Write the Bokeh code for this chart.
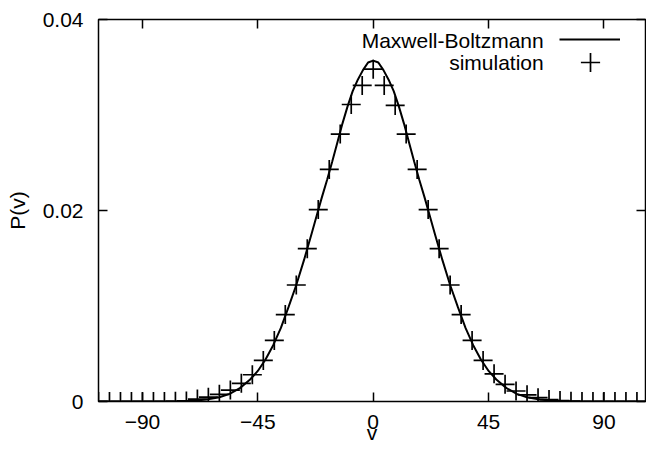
from bokeh.plotting import figure
from bokeh.models import (LinearAxis, FixedTicker, CustomJSTickFormatter, Legend,
                          LegendItem, Label, Range1d)
from bokeh.embed import file_html
from bokeh.resources import INLINE

# ---- data ----
v_sim = [-107.14, -102.86, -98.57, -94.29, -90.00, -85.71, -81.43, -77.14, -72.86,
         -68.57, -64.29, -60.00, -55.71, -51.43, -47.14, -42.86, -38.57, -34.29,
         -30.00, -25.71, -21.43, -17.14, -12.86, -8.57, -4.29, 0.00, 4.29, 8.57,
         12.86, 17.14, 21.43, 25.71, 30.00, 34.29, 38.57, 42.86, 47.14, 51.43,
         55.71, 60.00, 64.29, 68.57, 72.86, 77.14, 81.43, 85.71, 90.00, 94.29,
         98.57, 102.86]
p_sim = [0.0, 0.0, 0.0, 0.0, 0.0, 0.0, 0.0, 0.00002, 0.00006,
         0.00025, 0.00045, 0.00075, 0.0012, 0.0019, 0.0028, 0.0043, 0.0064, 0.0091,
         0.0122, 0.0160, 0.0201, 0.0243, 0.0280, 0.0311, 0.0331, 0.0348, 0.0331, 0.0310,
         0.0280, 0.0243, 0.0201, 0.0160, 0.0122, 0.0091, 0.0064, 0.0043, 0.0029, 0.0018,
         0.0011, 0.0007, 0.0004, 0.0002, 0.0001, 0.00003, 0.0, 0.0, 0.0, 0.0,
         0.0, 0.0]

v_curve = [-107, -90, -80, -75, -70, -65, -60, -56, -52, -48, -45, -42, -39, -36, -33,
           -30, -27, -24, -22, -20, -18, -16, -14, -12, -10, -8, -6, -4, -2, 0,
           2, 4, 6, 8, 10, 12, 14, 16, 18, 20, 22, 24, 27, 30, 33, 36, 39, 42, 45,
           48, 52, 56, 60, 65, 70, 75, 80, 90, 107]
p_curve = [0.0, 0.0, 0.00001, 0.00003, 0.00008, 0.0002, 0.00045, 0.0008, 0.0014, 0.0023,
           0.0032, 0.0044, 0.0059, 0.0077, 0.0099,
           0.0122, 0.0148, 0.0176, 0.0195, 0.0214, 0.0232, 0.0251, 0.0271, 0.0291, 0.0309,
           0.0325, 0.0337, 0.0347, 0.0355, 0.0357,
           0.0355, 0.0347, 0.0337, 0.0325, 0.0309, 0.0291, 0.0271, 0.0251, 0.0232, 0.0214,
           0.0195, 0.0176, 0.0148, 0.0122, 0.0099, 0.0077, 0.0059, 0.0044, 0.0032,
           0.0023, 0.0014, 0.0008, 0.00045, 0.0002, 0.00008, 0.00003, 0.00001, 0.0, 0.0]

x_ticks = [-90, -45, 0, 45, 90]
y_ticks = [0, 0.02, 0.04]
y_tick_labels = ["0", "0.02", "0.04"]
series_names = ["Maxwell-Boltzmann", "simulation"]
x_title = "v"
y_title = "P(v)"

FONT = "Liberation Sans"
FS = "21px"

p = figure(width=646, height=451, output_backend="svg", toolbar_location=None,
           x_range=Range1d(-107.14, 106.2), y_range=Range1d(0, 0.04),
           min_border_left=98, min_border_right=1, min_border_top=19,
           min_border_bottom=50)
p.background_fill_color = "white"
p.border_fill_color = "white"
p.outline_line_color = "black"
p.outline_line_width = 1.5
p.grid.visible = False

def style_axis(ax, labels=True):
    ax.axis_line_color = None
    ax.major_tick_in = 9
    ax.major_tick_out = 0
    ax.major_tick_line_color = "black"
    ax.major_tick_line_width = 1.5
    ax.minor_tick_line_color = None
    ax.major_label_text_font = FONT
    ax.major_label_text_font_size = FS if labels else "1px"
    ax.major_label_text_color = "black"
    ax.axis_label_text_font = FONT
    ax.axis_label_text_font_size = FS
    ax.axis_label_text_font_style = "normal"
    ax.axis_label_text_color = "black"

xa = p.xaxis[0]
xa.ticker = FixedTicker(ticks=x_ticks)
style_axis(xa)
xa.major_label_standoff = 13
xa.axis_label = x_title
xa.axis_label_standoff = -11

ya = p.yaxis[0]
ya.ticker = FixedTicker(ticks=y_ticks)
ya.major_label_overrides = {t: s for t, s in zip(y_ticks, y_tick_labels)}
style_axis(ya)
ya.major_label_standoff = 15
ya.axis_label = y_title
ya.axis_label_standoff = 11

blank = CustomJSTickFormatter(code="return ''")
top = LinearAxis(ticker=FixedTicker(ticks=x_ticks), formatter=blank, major_label_standoff=0)
style_axis(top, labels=False)
p.add_layout(top, "above")
right = LinearAxis(ticker=FixedTicker(ticks=y_ticks), formatter=blank, major_label_standoff=0)
style_axis(right, labels=False)
p.add_layout(right, "right")

line_r = p.line(v_curve, p_curve, line_color="black", line_width=2)
sim_r = p.scatter(v_sim, p_sim, marker="cross", size=19, line_color="black", line_width=1.7)

def mk_legend(renderer, loc, gw, gh):
    lg = Legend(items=[LegendItem(label=" ", renderers=[renderer])], location=loc,
                glyph_width=gw, glyph_height=gh, padding=0, margin=0, spacing=0,
                label_standoff=0, label_width=0, label_height=0,
                label_text_font_size="1px", background_fill_alpha=0,
                border_line_color=None)
    p.add_layout(lg)

mk_legend(line_r, (461, 351.7), 61, 20)
mk_legend(sim_r, (468, 315.3), 48, 48)

for name, yv in zip(series_names, [0.0378, 0.03553]):
    p.add_layout(Label(x=66.5, y=yv, text=name, text_align="right", text_baseline="middle",
                       text_font=FONT, text_font_size=FS, text_color="black"))

open("out.html", "w").write(file_html(p, INLINE))
